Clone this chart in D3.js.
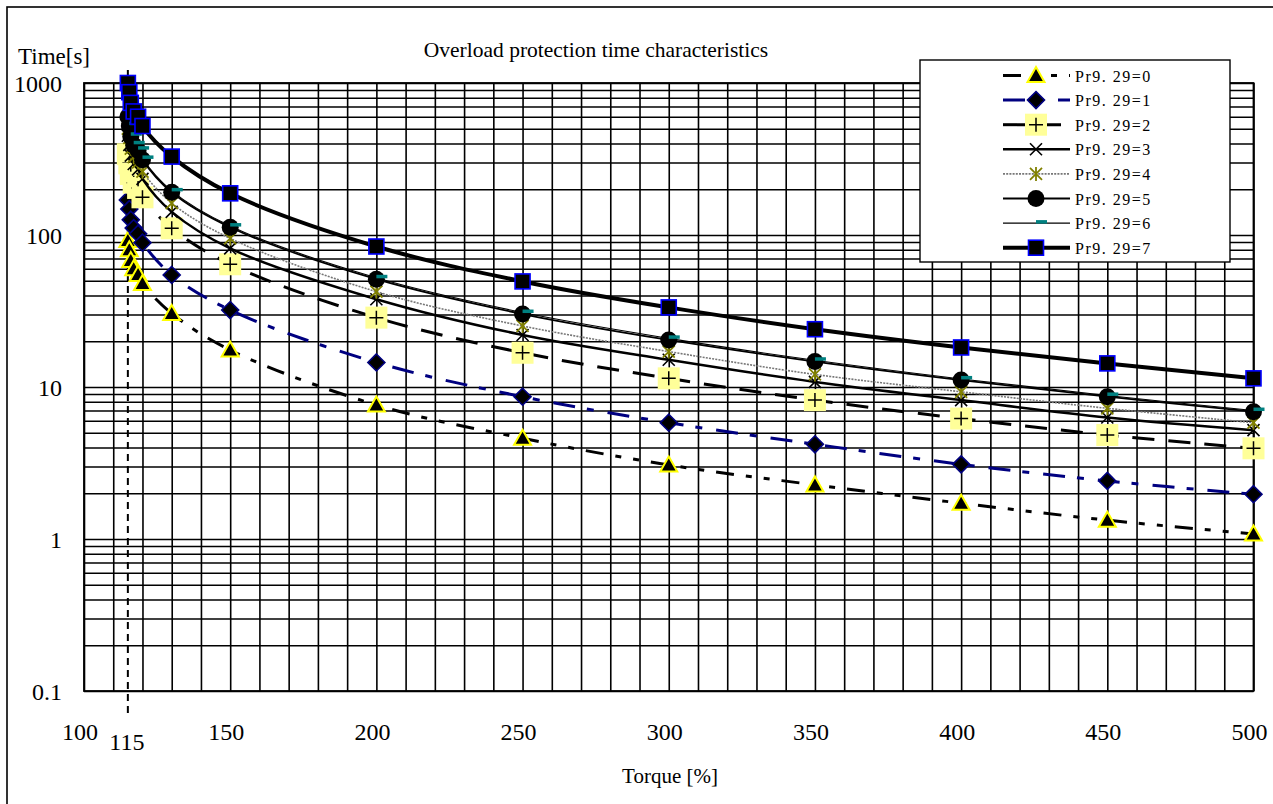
<!DOCTYPE html>
<html><head><meta charset="utf-8">
<script src="https://cdn.jsdelivr.net/npm/d3@7"></script>
<style>body{margin:0;background:#fff} svg{display:block} text{font-family:"Liberation Serif","Times New Roman",serif;fill:#000}</style>
</head><body><svg id="c" width="1273" height="804"></svg>
<script>
// ---- data ----
const torque = [115, 115.5, 116, 117, 118.5, 120, 130, 150, 200, 250, 300, 350, 400, 450, 500];
const pr0 = [92, 80, 68, 60, 55, 48, 30.5, 17.5, 7.62, 4.6, 3.07, 2.27, 1.72, 1.33, 1.08];
const pr1 = [170, 148, 126, 111, 102, 89, 54.6, 32.1, 14.5, 8.63, 5.82, 4.2, 3.1, 2.41, 1.97];
const pr2 = [340, 296, 252, 221, 204, 177, 110.7, 64.2, 28.6, 16.8, 11.4, 8.2, 6.2, 4.83, 3.95];
const pr3 = [450, 392, 333, 293, 270, 234, 142, 81.7, 37.8, 22, 15.1, 10.8, 8.2, 6.3, 5.2];
const pr4 = [500, 435, 370, 325, 300, 261, 162, 95, 42.4, 25.2, 17.1, 12.1, 9.3, 7.24, 5.82];
const pr5 = [600, 522, 444, 390, 360, 313, 191, 112.5, 51.2, 30.2, 20.4, 14.7, 11.1, 8.64, 6.88];
const pr6 = [612, 532, 453, 398, 367, 319, 195, 114.5, 52.3, 30.9, 20.9, 15.0, 11.3, 8.8, 7.0];
const pr7 = [1000, 870, 740, 650, 600, 521, 328, 188, 84, 49.5, 33.4, 24, 18.2, 14.3, 11.4];
const seriesNames = ["Pr9. 29=0", "Pr9. 29=1", "Pr9. 29=2", "Pr9. 29=3", "Pr9. 29=4", "Pr9. 29=5", "Pr9. 29=6", "Pr9. 29=7"];
const xTickLabels = [100, 150, 200, 250, 300, 350, 400, 450, 500];
const yTickValues = [0.1, 1, 10, 100, 1000];
const yTickLabels = ["0.1", "1", "10", "100", "1000"];
const markTorque = 115;

const allSeries = [pr0, pr1, pr2, pr3, pr4, pr5, pr6, pr7];

// ---- styles ----
const styles = [
  {stroke: "#000", width: 3, dash: "18,12,6,12,6,12", marker: "triangle"},
  {stroke: "#000080", width: 3, dash: "22,12,7,14", marker: "diamond"},
  {stroke: "#000", width: 3, dash: "22,14", marker: "plus"},
  {stroke: "#000", width: 2.5, dash: null, marker: "x"},
  {stroke: "#777", width: 1.6, dash: "2,1.2", marker: "star"},
  {stroke: "#000", width: 1.8, dash: null, marker: "circle"},
  {stroke: "#000", width: 1.1, dash: null, marker: "dash"},
  {stroke: "#000", width: 4, dash: null, marker: "square"}
];

const svg = d3.select("#c");
const L = 84, R = 1253.5, T = 83, B = 691;
const x = d3.scaleLinear().domain([100, 500]).range([L, R]);
const y = d3.scaleLog().domain([0.1, 1000]).range([B, T]);

// outer frame
svg.append("rect").attr("x", 7).attr("y", 7).attr("width", 1400).attr("height", 1000)
  .attr("fill", "#fff").attr("stroke", "#000").attr("stroke-width", 1.6);

// grid
const gridX = d3.range(100, 501, 10);
const gridY = [];
[0.1, 1, 10, 100].forEach(d => { for (let k = 1; k <= 9; k++) gridY.push(+(d * k).toPrecision(3)); });
gridY.push(1000);

const gx = svg.append("g").attr("transform", `translate(0,${B})`)
  .call(d3.axisBottom(x).tickValues(gridX).tickSize(-(B - T)).tickFormat(""));
const gy = svg.append("g").attr("transform", `translate(${L},0)`)
  .call(d3.axisLeft(y).tickValues(gridY).tickSize(-(R - L)).tickFormat(""));
[gx, gy].forEach(g => {
  g.selectAll(".tick line").attr("stroke", "#000").attr("stroke-width", 1.6);
  g.select(".domain").remove();
});
svg.append("rect").attr("x", L).attr("y", T).attr("width", R - L).attr("height", B - T)
  .attr("fill", "none").attr("stroke", "#000").attr("stroke-width", 1.8);

// tick labels
svg.append("g").selectAll("text").data(xTickLabels).join("text")
  .attr("x", d => x(d) - 4).attr("y", 740).attr("text-anchor", "middle")
  .style("font-size", "24px").text(d => d);
svg.append("g").selectAll("text").data(yTickValues).join("text")
  .attr("x", 62).attr("y", d => y(d) + 9).attr("text-anchor", "end")
  .style("font-size", "24px").text((d, i) => yTickLabels[i]);

// 115 marker line
svg.append("line").attr("x1", x(markTorque)).attr("x2", x(markTorque))
  .attr("y1", 70).attr("y2", 717).attr("stroke", "#000").attr("stroke-width", 2)
  .attr("stroke-dasharray", "7,5");
svg.append("text").attr("x", x(markTorque) - 1).attr("y", 750).attr("text-anchor", "middle")
  .style("font-size", "24px").text(markTorque);

// titles
svg.append("text").attr("x", 596).attr("y", 57).attr("text-anchor", "middle")
  .style("font-size", "21.5px").text("Overload protection time characteristics");
svg.append("text").attr("x", 18).attr("y", 64).style("font-size", "23px").text("Time[s]");
svg.append("text").attr("x", 670).attr("y", 783).attr("text-anchor", "middle")
  .style("font-size", "21px").text("Torque [%]");

// markers
function drawMarker(g, type) {
  switch (type) {
    case "triangle":
      g.append("path").attr("d", "M0,-8.5L8.5,6.5L-8.5,6.5Z").attr("fill", "#000")
        .attr("stroke", "#FFFF00").attr("stroke-width", 2).attr("stroke-linejoin", "miter");
      break;
    case "diamond":
      g.append("path").attr("d", "M0,-8.5L8.5,0L0,8.5L-8.5,0Z").attr("fill", "#000")
        .attr("stroke", "#000080").attr("stroke-width", 1.6);
      break;
    case "plus":
      g.append("rect").attr("x", -11).attr("y", -11).attr("width", 22).attr("height", 22).attr("fill", "#FFFF99");
      g.append("path").attr("d", "M-7,0H7M0,-7V7").attr("stroke", "#000").attr("stroke-width", 1.5);
      break;
    case "x":
      g.append("path").attr("d", "M-6,-6L6,6M-6,6L6,-6").attr("stroke", "#000").attr("stroke-width", 1.6);
      break;
    case "star":
      g.append("path").attr("d", "M-6,-6L6,6M-6,6L6,-6M0,-7V7").attr("stroke", "#808000").attr("stroke-width", 1.8);
      break;
    case "circle":
      g.append("circle").attr("r", 8.5).attr("fill", "#000");
      break;
    case "dash":
      g.append("rect").attr("x", 0).attr("y", -3).attr("width", 11).attr("height", 3.5).attr("fill", "#008080");
      break;
    case "square":
      g.append("rect").attr("x", -7.5).attr("y", -7.5).attr("width", 15).attr("height", 15)
        .attr("fill", "#000").attr("stroke", "#0000FF").attr("stroke-width", 1.6);
      break;
  }
}

// series
const line = d3.line().x((d, i) => x(torque[i])).y(d => y(d)).curve(d3.curveCatmullRom.alpha(0.5));
allSeries.forEach((vals, si) => {
  const st = styles[si];
  const g = svg.append("g");
  g.append("path").attr("d", line(vals)).attr("fill", "none").attr("stroke", st.stroke)
    .attr("stroke-width", st.width).attr("stroke-dasharray", st.dash);
  vals.forEach((v, i) => {
    const mg = g.append("g").attr("transform", `translate(${x(torque[i])},${y(v)})`);
    drawMarker(mg, st.marker);
  });
});

// legend
const lg = svg.append("g");
lg.append("rect").attr("x", 920).attr("y", 60).attr("width", 310).attr("height", 202)
  .attr("fill", "#fff").attr("stroke", "#000").attr("stroke-width", 1.4);
seriesNames.forEach((name, i) => {
  const st = styles[i];
  const cy = 75.5 + i * 24.6;
  lg.append("line").attr("x1", 1003).attr("x2", 1070).attr("y1", cy).attr("y2", cy)
    .attr("stroke", st.stroke).attr("stroke-width", st.width).attr("stroke-dasharray", st.dash);
  drawMarker(lg.append("g").attr("transform", `translate(1036,${cy})`), st.marker);
  lg.append("text").attr("x", 1075).attr("y", cy + 6).style("font-size", "16px")
    .style("letter-spacing", "1.5px").text(name);
});
</script></body></html>
